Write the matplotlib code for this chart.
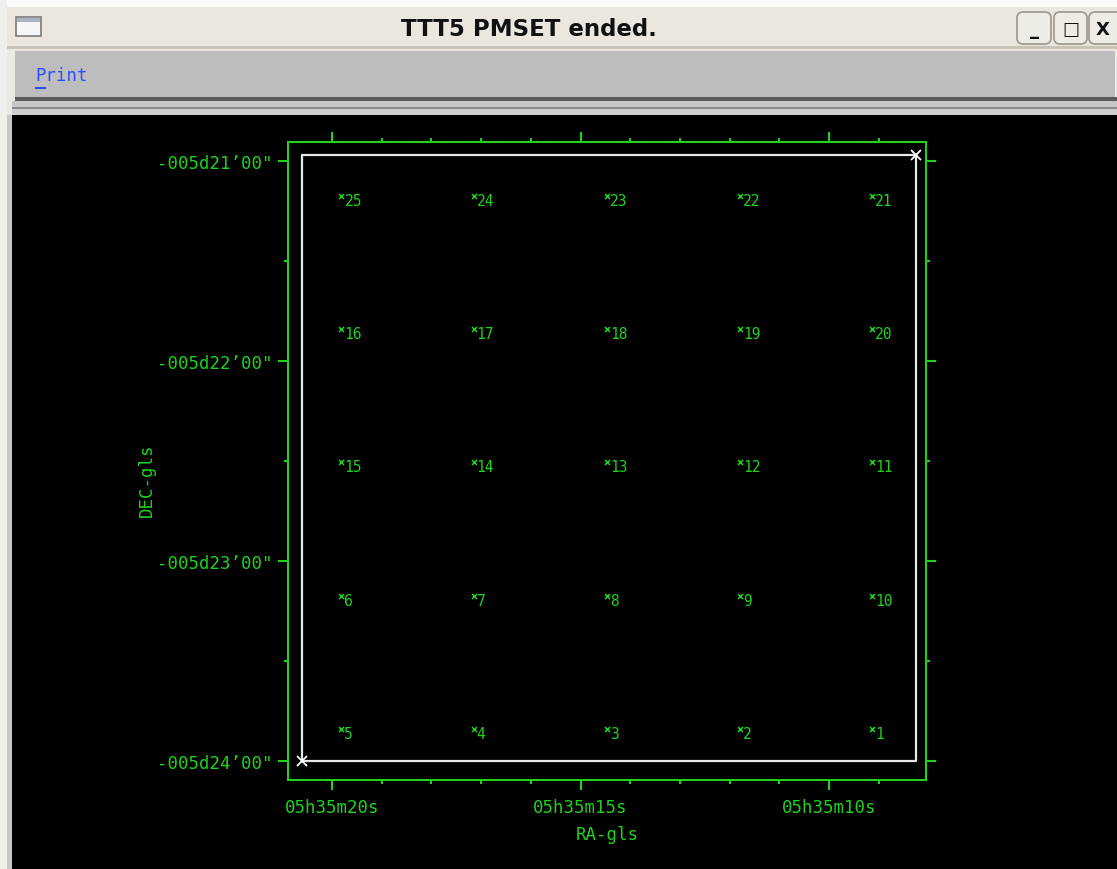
import matplotlib
matplotlib.use("Agg")
import matplotlib.pyplot as plt
from matplotlib.patches import Rectangle, FancyBboxPatch
from matplotlib.ticker import FixedLocator, FixedFormatter

# ---------------- data ----------------
window_title = "TTT5 PMSET ended."
menu_item = "Print"
x_label = "RA-gls"
y_label = "DEC-gls"

# RA in seconds of time after 05h35m, DEC in arcsec (negative, from -005d00'00")
ra_major_ticks = [20.0, 15.0, 10.0]
ra_major_labels = ["05h35m20s", "05h35m15s", "05h35m10s"]
ra_minor_ticks = [20.0, 19.0, 18.0, 17.0, 16.0, 15.0, 14.0, 13.0, 12.0, 11.0, 10.0, 9.0]
dec_major_ticks = [-1260.0, -1320.0, -1380.0, -1440.0]
dec_major_labels = ["-005d21\u201900\"", "-005d22\u201900\"", "-005d23\u201900\"", "-005d24\u201900\""]
dec_minor_ticks = [-1290.0, -1350.0, -1410.0]
ra_limits = [20.885, 8.05]
dec_limits = [-1445.8, -1254.4]

# field rectangle corners
field_ra = [20.60, 8.26]
field_dec = [-1440.0, -1258.2]

# pointing grid (id, RA sec, DEC arcsec)
pointing_ids = [1, 2, 3, 4, 5,
                6, 7, 8, 9, 10,
                11, 12, 13, 14, 15,
                16, 17, 18, 19, 20,
                21, 22, 23, 24, 25]
pointing_ra = [9.13, 11.79, 14.47, 17.15, 19.81,
               19.81, 17.15, 14.47, 11.79, 9.13,
               9.13, 11.79, 14.47, 17.15, 19.81,
               19.81, 17.15, 14.47, 11.79, 9.13,
               9.13, 11.79, 14.47, 17.15, 19.81]
pointing_dec = [-1430.5, -1430.5, -1430.5, -1430.5, -1430.5,
                -1390.5, -1390.5, -1390.5, -1390.5, -1390.5,
                -1350.5, -1350.5, -1350.5, -1350.5, -1350.5,
                -1310.5, -1310.5, -1310.5, -1310.5, -1310.5,
                -1270.5, -1270.5, -1270.5, -1270.5, -1270.5]

# ---------------- styling ----------------
GREEN = "#1ed21e"
WHITE = "#e8e8e8"
MONO = ["DejaVu Sans Mono"]
W, H = 1117, 870

fig = plt.figure(figsize=(W / 100, H / 100), dpi=100, facecolor="black")

# window chrome drawn in pixel coordinates
bg = fig.add_axes([0, 0, 1, 1])
bg.set_xlim(0, W)
bg.set_ylim(H, 0)
bg.axis("off")

def rect(x0, y0, x1, y1, fc, ec="none", lw=0, z=1):
    bg.add_patch(Rectangle((x0, y0), x1 - x0, y1 - y0, facecolor=fc, edgecolor=ec, linewidth=lw, zorder=z))

rect(0, 0, W, H, "black", z=0)
rect(0, 0, W, 116, "#ece9e3")
rect(0, 0, W, 8, "#fbfbfa")
rect(0, 0, 6, 6, "#8b1a10")
rect(0, 8, W, 48, "#ebe7df")
rect(0, 47, W, 50, "#c9c2b6")
rect(0, 0, 7, H, "#f1efeb")
rect(7, 116, 12, H, "#c9c9c9")
rect(15, 52, 1115, 99, "#bdbdbd")
rect(15, 98, 1117, 102, "#5a5a5a")
rect(12, 102, 1117, 108, "#c6c6c6")
rect(12, 108, 1117, 110, "#8a8a8a")
rect(12, 110, 1117, 116, "#cfcfcf")
rect(12, 116, W, H, "black", z=1)

# title icon
rect(16, 18, 41, 37, "#f6f6f6", ec="#7a7a7a", lw=1.2, z=2)
rect(17, 19, 40, 23, "#a9b3c3", z=3)

# title buttons
for (bx0, bx1, sym) in [(1017, 1051, "_"), (1054, 1087, "\u25a1"), (1089, 1125, "X")]:
    bg.add_patch(FancyBboxPatch((bx0, 13), bx1 - bx0, 32, boxstyle="round,pad=0,rounding_size=6",
                                facecolor="#efebe5", edgecolor="#9c958a", linewidth=1.2, zorder=3))
    bg.text((bx0 + bx1) / 2 if sym != "X" else 1103, 30, sym, ha="center", va="center",
            fontsize=13, fontweight="bold", color="#111111", zorder=4, family="DejaVu Sans")

bg.text(529, 30, window_title, ha="center", va="center", fontsize=16.5, fontweight="bold",
        color="#111111", family="DejaVu Sans", zorder=4)
bg.text(35, 76, menu_item, ha="left", va="center", fontsize=12.5, color="#2a4cff", family=MONO, zorder=4)
bg.plot([36, 45], [89, 89], color="#2a4cff", lw=1.5, zorder=4)

# ---------------- plot ----------------
ax = fig.add_axes([288 / W, (H - 781) / H, (926 - 288) / W, (781 - 143) / H])
ax.set_facecolor("black")
ax.set_xlim(*ra_limits)
ax.set_ylim(*dec_limits)

for s in ax.spines.values():
    s.set_color(GREEN)
    s.set_linewidth(1.5)

ax.xaxis.set_major_locator(FixedLocator(ra_major_ticks))
ax.xaxis.set_major_formatter(FixedFormatter(ra_major_labels))
ax.xaxis.set_minor_locator(FixedLocator(ra_minor_ticks))
ax.yaxis.set_major_locator(FixedLocator(dec_major_ticks))
ax.yaxis.set_major_formatter(FixedFormatter(dec_major_labels))
ax.yaxis.set_minor_locator(FixedLocator(dec_minor_ticks))

ax.tick_params(which="both", direction="out", color=GREEN, labelcolor=GREEN,
               top=True, right=True, labeltop=False, labelright=False, width=1.5)
ax.tick_params(which="major", length=7)
ax.tick_params(which="minor", length=3.2)
ax.tick_params(axis="x", which="major", pad=6)
ax.tick_params(axis="y", which="major", pad=4)
for lab in ax.get_xticklabels() + ax.get_yticklabels():
    lab.set_family(MONO)
    lab.set_fontsize(12.5)

ax.set_xlabel(x_label, color=GREEN, fontsize=12.5, family=MONO)
ax.set_ylabel(y_label, color=GREEN, fontsize=12.5, family=MONO)
ax.xaxis.set_label_coords(0.5, -0.071)
ax.yaxis.set_label_coords(-0.207, 0.472)

# field rectangle
ax.plot([field_ra[0], field_ra[1], field_ra[1], field_ra[0], field_ra[0]],
        [field_dec[0], field_dec[0], field_dec[1], field_dec[1], field_dec[0]],
        color=WHITE, lw=1.6, zorder=3)
ax.plot(field_ra, field_dec, "x", color="white", ms=6.5, mew=1.3, zorder=4)

# pointings
ax.plot(pointing_ra, pointing_dec, "x", color=GREEN, ms=3.6, mew=1.1, zorder=4, linestyle="none")
for pid, ra, dec in zip(pointing_ids, pointing_ra, pointing_dec):
    ax.annotate(str(pid), (ra, dec), xytext=(3, -9), textcoords="offset pixels",
                ha="left", va="baseline", fontsize=10.5, color=GREEN, family=MONO, zorder=5)

fig.savefig("out.png", dpi=100, facecolor=fig.get_facecolor())
